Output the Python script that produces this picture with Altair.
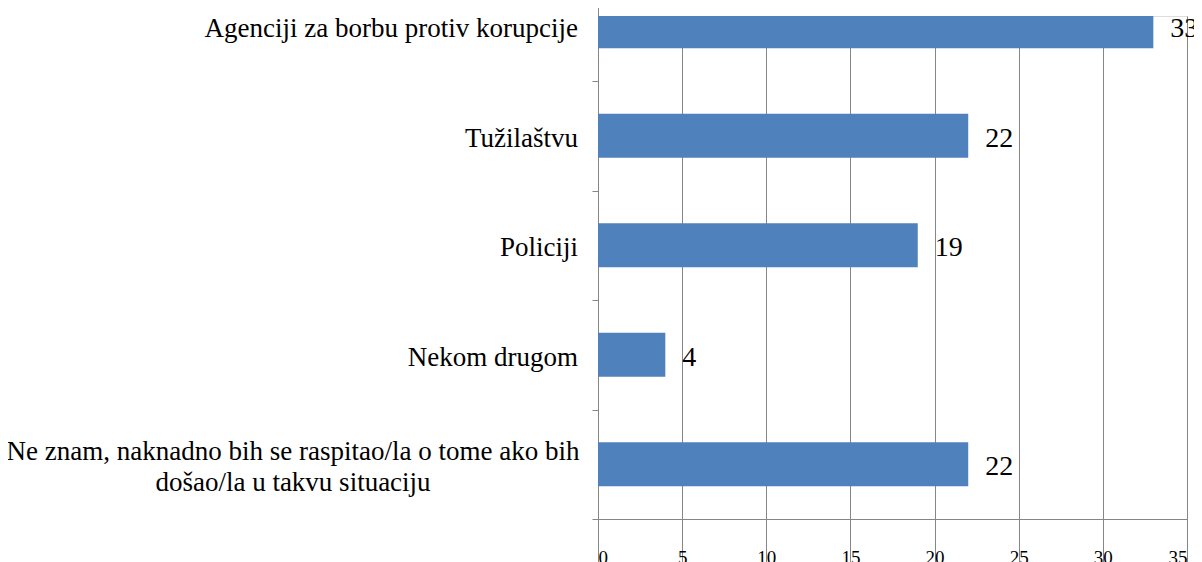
import altair as alt
import pandas as pd

categories = [
    "Agenciji za borbu protiv korupcije",
    "Tužilaštvu",
    "Policiji",
    "Nekom drugom",
    "Ne znam, naknadno bih se raspitao/la o tome ako bih došao/la u takvu situaciju",
]
label_lines = [
    ["Agenciji za borbu protiv korupcije"],
    ["Tužilaštvu"],
    ["Policiji"],
    ["Nekom drugom"],
    ["Ne znam, naknadno bih se raspitao/la o tome ako bih", "došao/la u takvu situaciju"],
]
values = [33, 22, 19, 4, 22]
x_ticks = [0, 5, 10, 15, 20, 25, 30, 35]

df = pd.DataFrame({"cat": categories, "val": values, "lines": label_lines})
df["single"] = [len(l) == 1 for l in label_lines]

FONT = "Liberation Serif"
GRID = "#868686"
H = 503

y_scale = alt.Scale(paddingInner=0.6, paddingOuter=0.3, range=[-44.5, H])

y_enc = alt.Y(
    "cat:N",
    sort=categories,
    scale=y_scale,
    axis=alt.Axis(
        title=None,
        labels=False,
        domainColor=GRID,
        tickColor=GRID,
        tickSize=6,
        tickOffset=54.75,
        grid=False,
    ),
)

x_enc = alt.X(
    "val:Q",
    scale=alt.Scale(domain=[0, 35], nice=False),
    axis=alt.Axis(
        title=None,
        values=x_ticks,
        grid=True,
        gridColor=GRID,
        domainColor=GRID,
        tickColor=GRID,
        tickSize=6,
        labelFont=FONT,
        labelFontSize=19,
        labelColor="#000000",
        labelPadding=23,
    ),
)

bars = alt.Chart(df).mark_bar(color="#4F81BD", clip=True).encode(x=x_enc, y=y_enc)

values_text = alt.Chart(df).mark_text(
    align="left", baseline="middle", dx=17, dy=3, font=FONT, fontSize=28, color="#000000"
).encode(x="val:Q", y=alt.Y("cat:N", sort=categories), text="val:Q")

single_labels = alt.Chart(df).transform_filter("datum.single").mark_text(
    align="right", baseline="middle", dy=3, font=FONT, fontSize=27, color="#000000"
).encode(x=alt.value(-20), y=alt.Y("cat:N", sort=categories), text="cat:N")

multi_labels = alt.Chart(df).transform_filter("!datum.single").mark_text(
    align="center", baseline="middle", dy=-12, font=FONT, fontSize=27, color="#000000", lineHeight=31
).encode(x=alt.value(-305), y=alt.Y("cat:N", sort=categories), text="lines")

chart = (
    alt.layer(bars, values_text, single_labels, multi_labels)
    .properties(
        width=589,
        height=H,
        autosize=alt.AutoSizeParams(type="none"),
        padding={"left": 590, "top": 8, "right": 7, "bottom": 43},
    )
    .configure_view(stroke=None)
    .configure(background="white")
)

chart.save("out.html", embed_options={"renderer": "svg", "actions": False})
